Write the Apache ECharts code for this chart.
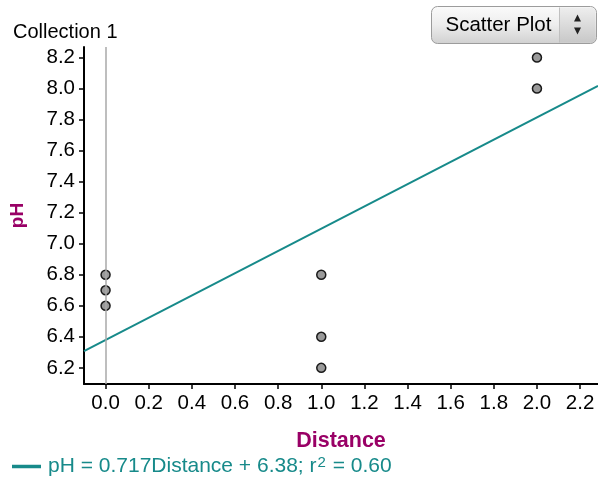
<!DOCTYPE html>
<html>
<head>
<meta charset="utf-8">
<script src="https://cdn.jsdelivr.net/npm/echarts@6/dist/echarts.min.js"></script>
<style>
html,body{margin:0;padding:0;background:#fff;}
#main{width:598px;height:487px;}
</style>
</head>
<body>
<div id="main"></div>
<script>
// Data
var distance = [0, 0, 0, 1, 1, 1, 2, 2];
var pH = [6.6, 6.7, 6.8, 6.2, 6.4, 6.8, 8.0, 8.2];
var xTicks = [0, 0.2, 0.4, 0.6, 0.8, 1.0, 1.2, 1.4, 1.6, 1.8, 2.0, 2.2];
var yTicks = [6.2, 6.4, 6.6, 6.8, 7.0, 7.2, 7.4, 7.6, 7.8, 8.0, 8.2];
var slope = 0.717;
var intercept = 6.38;
var xMin = -0.1, xMax = 2.283;
var yMin = 6.096, yMax = 8.268;

var points = distance.map(function (d, i) { return [d, pH[i]]; });
var fitLine = [[xMin, intercept + slope * xMin], [xMax, intercept + slope * xMax]];

var FONT = '"Liberation Sans", Arial, sans-serif';
var teal = '#178a8a';
var magenta = '#990066';

var chart = echarts.init(document.getElementById('main'));
chart.setOption({
  animation: false,
  backgroundColor: '#fff',
  textStyle: { fontFamily: FONT },
  title: {
    text: 'Collection 1', left: 8, top: 17,
    textStyle: { fontSize: 20, fontWeight: 'normal', color: '#000', fontFamily: FONT }
  },
  grid: { left: 80, right: 0, top: 47, bottom: 103 },
  legend: {
    left: 12, top: 455, padding: 0,
    icon: 'rect', itemWidth: 29, itemHeight: 3.5, itemGap: 0,
    data: ['fit'],
    formatter: function () { return 'pH = 0.717Distance + 6.38; r{sup|2} = 0.60'; },
    textStyle: {
      color: teal, fontSize: 21, fontFamily: FONT, padding: [0, 0, 0, 2],
      rich: { sup: { fontSize: 15, color: teal, verticalAlign: 'top', padding: [0, 1, 8, 1] } }
    }
  },
  xAxis: {
    type: 'value', min: xMin, max: xMax,
    name: 'Distance', nameLocation: 'middle', nameGap: 46,
    nameTextStyle: { color: magenta, fontWeight: 'bold', fontSize: 21.5, fontFamily: FONT },
    axisLine: { show: true, onZero: false, lineStyle: { color: '#000', width: 2 } },
    axisTick: { show: true, length: 5, customValues: xTicks, lineStyle: { color: '#000', width: 1.5 } },
    axisLabel: {
      customValues: xTicks, margin: 9, color: '#000', fontSize: 20.5, fontFamily: FONT,
      formatter: function (v) { return v.toFixed(1); }
    },
    splitLine: { show: false }
  },
  yAxis: {
    type: 'value', min: yMin, max: yMax,
    name: 'pH', nameLocation: 'middle', nameGap: 57, nameRotate: 90,
    nameTextStyle: { color: magenta, fontWeight: 'bold', fontSize: 19, fontFamily: FONT },
    axisLine: { show: true, onZero: false, lineStyle: { color: '#000', width: 2 } },
    axisTick: { show: true, length: 5, customValues: yTicks, lineStyle: { color: '#000', width: 1.5 } },
    axisLabel: {
      customValues: yTicks, margin: 9, color: '#000', fontSize: 20.5, fontFamily: FONT,
      formatter: function (v) { return v.toFixed(1); }
    },
    splitLine: { show: false }
  },
  series: [
    {
      name: 'fit', type: 'line', data: fitLine, symbol: 'none', clip: true,
      lineStyle: { color: teal, width: 2 }, itemStyle: { color: teal },
      silent: true, z: 3,
      markLine: {
        silent: true, symbol: ['none', 'none'], label: { show: false },
        lineStyle: { color: '#a8a8a8', width: 1.5, type: 'solid' },
        data: [{ xAxis: 0 }]
      }
    },
    {
      name: 'points', type: 'scatter', data: points, symbolSize: 9, z: 4,
      itemStyle: { color: '#9a9a9a', borderColor: '#1a1a1a', borderWidth: 1.5, opacity: 1 }
    }
  ],
  graphic: [
    {
      type: 'group', left: 431, top: 5,
      children: [
        {
          type: 'rect', shape: { x: 0, y: 0, width: 165, height: 37, r: 6 },
          style: {
            fill: new echarts.graphic.LinearGradient(0, 0, 0, 1, [
              { offset: 0, color: '#fbfbfb' }, { offset: 0.5, color: '#ededed' }, { offset: 1, color: '#d0d0d0' }
            ]),
            stroke: '#9c9c9c', lineWidth: 1
          }
        },
        {
          type: 'rect', shape: { x: 128, y: 1, width: 36, height: 35, r: [0, 5, 5, 0] },
          style: {
            fill: new echarts.graphic.LinearGradient(0, 0, 0, 1, [
              { offset: 0, color: '#eeeeee' }, { offset: 1, color: '#c8c8c8' }
            ])
          }
        },
        { type: 'line', shape: { x1: 128, y1: 1, x2: 128, y2: 36 }, style: { stroke: '#c0c0c0', lineWidth: 1 } },
        {
          type: 'text', style: { x: 14, y: 18.5, text: 'Scatter Plot', fill: '#000', font: '20.5px ' + FONT, textVerticalAlign: 'middle' }
        },
        { type: 'polygon', shape: { points: [[146, 8], [142.5, 15], [149.5, 15]] }, style: { fill: '#222' } },
        { type: 'polygon', shape: { points: [[142.5, 21], [149.5, 21], [146, 28]] }, style: { fill: '#222' } }
      ]
    }
  ]
});
</script>
</body>
</html>
